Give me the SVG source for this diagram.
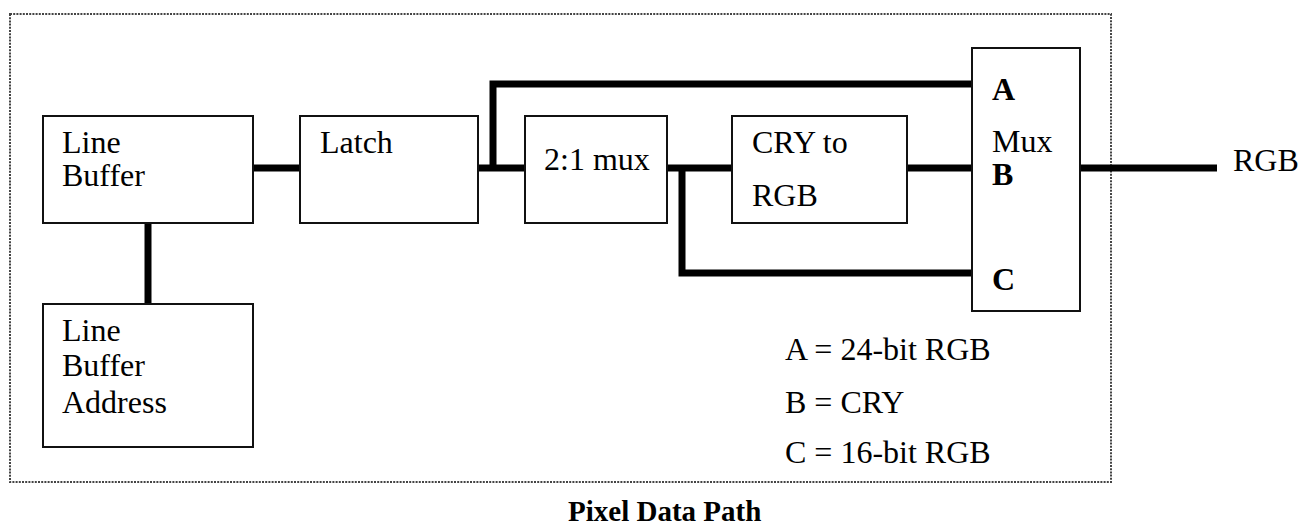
<svg xmlns="http://www.w3.org/2000/svg" width="1309" height="525" viewBox="0 0 1309 525">
  <style>
    .box { fill: #fff; stroke: #111; stroke-width: 2; }
    .wire { fill: none; stroke: #000; stroke-width: 7; stroke-linejoin: miter; stroke-linecap: butt; }
    .frame { fill: none; stroke: #444; stroke-width: 2; stroke-dasharray: 2 1.2; }
    text { font-family: "Liberation Serif", "Times New Roman", serif; font-size: 32px; fill: #000; }
    .bold { font-weight: bold; }
    .title { font-weight: bold; font-size: 29px; }
  </style>

  <!-- dotted enclosure -->
  <rect class="frame" x="10" y="14" width="1101" height="468"/>

  <!-- connectors -->
  <g id="connectors">
    <line class="wire" x1="148" y1="223" x2="148" y2="304"/>
    <line class="wire" x1="253" y1="168" x2="300" y2="168"/>
    <line class="wire" x1="478" y1="168" x2="525" y2="168"/>
    <polyline class="wire" points="493,168 493,84 972,84"/>
    <line class="wire" x1="667" y1="168" x2="732" y2="168"/>
    <polyline class="wire" points="682,168 682,273 972,273"/>
    <line class="wire" x1="907" y1="168" x2="972" y2="168"/>
    <line class="wire" x1="1080" y1="168" x2="1217" y2="168"/>
  </g>

  <g id="line-buffer">
    <rect class="box" x="43" y="116" width="210" height="107"/>
    <text x="62" y="153">Line</text>
    <text x="62" y="186">Buffer</text>
  </g>

  <g id="line-buffer-address">
    <rect class="box" x="43" y="304" width="210" height="143"/>
    <text x="62" y="341">Line</text>
    <text x="62" y="376">Buffer</text>
    <text x="62" y="413">Address</text>
  </g>

  <g id="latch">
    <rect class="box" x="300" y="116" width="178" height="107"/>
    <text x="320" y="153">Latch</text>
  </g>

  <g id="mux21">
    <rect class="box" x="525" y="116" width="142" height="107"/>
    <text x="544" y="170">2:1 mux</text>
  </g>

  <g id="cry-to-rgb">
    <rect class="box" x="732" y="116" width="175" height="107"/>
    <text x="752" y="153">CRY to</text>
    <text x="752" y="206">RGB</text>
  </g>

  <g id="mux">
    <rect class="box" x="972" y="48" width="108" height="263"/>
    <text class="bold" x="992" y="100">A</text>
    <text x="992" y="152">Mux</text>
    <text class="bold" x="992" y="185">B</text>
    <text class="bold" x="992" y="290">C</text>
  </g>

  <g id="output">
    <text x="1233" y="171">RGB</text>
  </g>

  <g id="legend">
    <text x="785" y="360">A = 24-bit RGB</text>
    <text x="785" y="413">B = CRY</text>
    <text x="785" y="463">C = 16-bit RGB</text>
  </g>

  <text class="title" x="568" y="521">Pixel Data Path</text>
</svg>
